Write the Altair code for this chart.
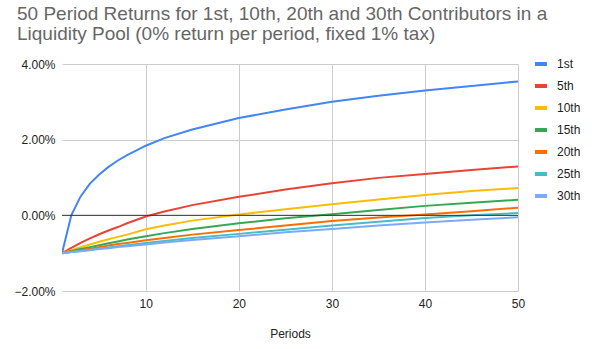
import altair as alt
import pandas as pd

periods = [1, 2, 3, 4, 5, 6, 7, 8, 10, 12, 15, 20, 25, 30, 35, 40, 45, 50]

s_1st = [-1.00, 0.00, 0.50, 0.84, 1.08, 1.28, 1.45, 1.59, 1.84, 2.04, 2.27, 2.57, 2.80, 3.00, 3.16, 3.30, 3.42, 3.54]
s_5th = [-1.00, -0.86, -0.73, -0.61, -0.50, -0.40, -0.31, -0.21, -0.03, 0.10, 0.27, 0.49, 0.68, 0.85, 0.99, 1.09, 1.20, 1.29]
s_10th = [-1.00, -0.92, -0.84, -0.77, -0.70, -0.63, -0.57, -0.51, -0.37, -0.27, -0.14, 0.02, 0.16, 0.29, 0.42, 0.54, 0.64, 0.72]
s_15th = [-1.00, -0.94, -0.89, -0.84, -0.79, -0.74, -0.69, -0.64, -0.55, -0.47, -0.36, -0.21, -0.08, 0.03, 0.14, 0.25, 0.33, 0.41]
s_20th = [-1.00, -0.96, -0.92, -0.88, -0.84, -0.80, -0.76, -0.73, -0.66, -0.60, -0.51, -0.39, -0.27, -0.15, -0.06, 0.02, 0.11, 0.20]
s_25th = [-1.00, -0.97, -0.94, -0.91, -0.88, -0.85, -0.82, -0.79, -0.73, -0.68, -0.60, -0.49, -0.38, -0.27, -0.17, -0.07, 0.00, 0.06]
s_30th = [-1.00, -0.97, -0.95, -0.92, -0.89, -0.87, -0.84, -0.82, -0.77, -0.72, -0.65, -0.55, -0.45, -0.36, -0.27, -0.19, -0.12, -0.05]

series_names = ["1st", "5th", "10th", "15th", "20th", "25th", "30th"]
series_values = [s_1st, s_5th, s_10th, s_15th, s_20th, s_25th, s_30th]
colors = ["#4285F4", "#EA4335", "#FBBC04", "#34A853", "#FF6D01", "#46BDC6", "#7BAAF7"]

rows = []
for name, vals in zip(series_names, series_values):
    for p, v in zip(periods, vals):
        rows.append({"Period": p, "Contributor": name, "pct": v})
df = pd.DataFrame(rows)

font = "Liberation Sans"

lines = alt.Chart(df).transform_calculate(
    ret="datum.pct / 100"
).mark_line(strokeWidth=2, clip=True).encode(
    x=alt.X("Period:Q",
            scale=alt.Scale(domain=[1, 50], nice=False, zero=False),
            axis=alt.Axis(values=[10, 20, 30, 40, 50], title="Periods",
                          grid=True, domain=False, ticks=False, labelFlush=False,
                          labelPadding=7, titlePadding=19)),
    y=alt.Y("ret:Q",
            scale=alt.Scale(domain=[-0.02, 0.04], nice=False),
            axis=alt.Axis(values=[-0.02, 0.0, 0.02, 0.04], format=".2%", title=None,
                          grid=True, domain=False, ticks=False, labelPadding=7,
                          labelFlush=False)),
    color=alt.Color("Contributor:N",
                    scale=alt.Scale(domain=series_names, range=colors),
                    sort=series_names,
                    legend=alt.Legend(title=None, orient="none", legendX=471, legendY=-8,
                                      symbolType="stroke", symbolStrokeWidth=4, symbolSize=144,
                                      labelFontSize=12, labelColor="#222222", labelFont=font,
                                      rowPadding=6, padding=0, labelOffset=8)),
    order=alt.Order("Period:Q"),
)

zero = alt.Chart(pd.DataFrame({"z": [0.0]})).mark_rule(color="#333333", strokeWidth=1).encode(
    y=alt.Y("z:Q")
)

chart = alt.layer(lines, zero).properties(
    width=456,
    height=227,
    title=alt.TitleParams(
        text=["50 Period Returns for 1st, 10th, 20th and 30th Contributors in a",
              "Liquidity Pool (0% return per period, fixed 1% tax)"],
        anchor="start", frame="group", dx=-45, fontSize=19, fontWeight="normal",
        font=font, color="#666666", lineHeight=20, offset=12
    ),
    autosize=alt.AutoSizeParams(type="none"),
    padding={"left": 62, "top": 64, "right": 74, "bottom": 58},
).configure_view(stroke=None).configure_axis(
    labelFont=font, labelFontSize=12, labelColor="#222222",
    titleFont=font, titleFontSize=12, titleColor="#222222", titleFontWeight="normal",
    gridColor="#cccccc", gridWidth=1
)

chart.save("out.html", embed_options={"renderer": "svg", "actions": False})
